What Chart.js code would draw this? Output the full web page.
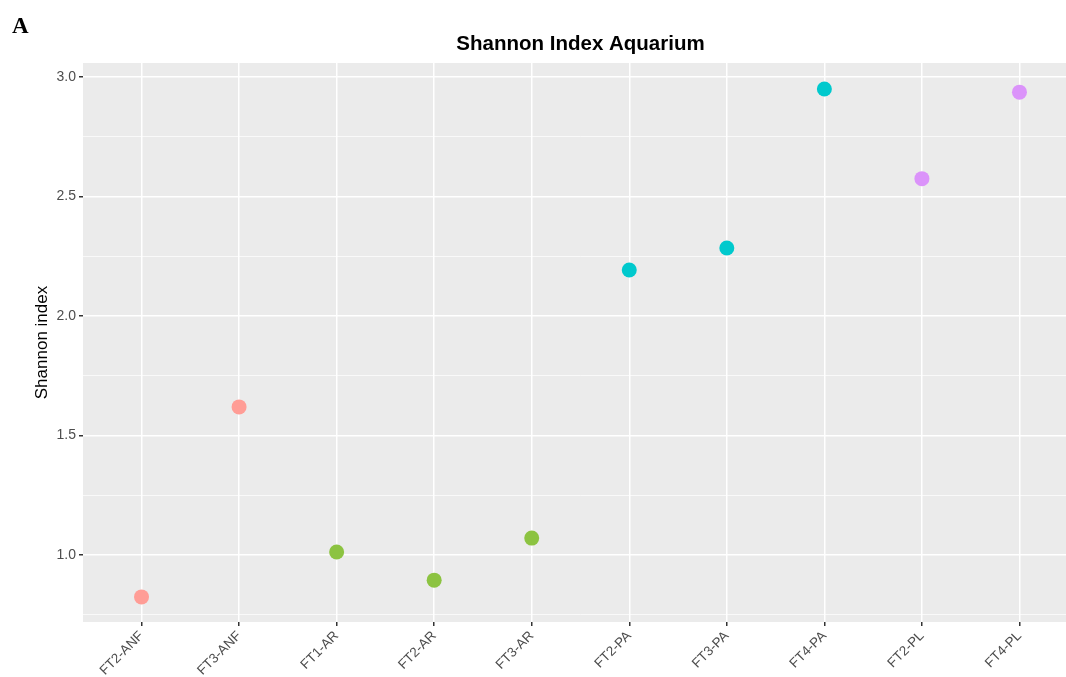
<!DOCTYPE html>
<html>
<head>
<meta charset="utf-8">
<script src="https://cdn.jsdelivr.net/npm/chart.js@4"></script>
<style>
  html, body { margin: 0; padding: 0; background: #fff; overflow: hidden; width: 1066px; height: 677px; }
  #wrap { position: relative; width: 1066px; height: 677px; overflow: hidden; }
  #letra { position: absolute; left: 12px; top: 13px; font-family: "Liberation Serif", "DejaVu Serif", serif; font-weight: bold; font-size: 23px; color: #000; }
  canvas { position: absolute; left: 0; top: 0; }
</style>
</head>
<body>
<div id="wrap">
  <canvas id="grafico" width="1090" height="677"></canvas>
  <div id="letra">A</div>
</div>
<script>
// datos
const muestras = ["FT2-ANF", "FT3-ANF", "FT1-AR", "FT2-AR", "FT3-AR", "FT2-PA", "FT3-PA", "FT4-PA", "FT2-PL", "FT4-PL"];
const shannon = [0.825, 1.62, 1.013, 0.895, 1.071, 2.193, 2.285, 2.95, 2.575, 2.937];
const grupos = ["ANF", "ANF", "AR", "AR", "AR", "PA", "PA", "PA", "PL", "PL"];
const coloresGrupo = { ANF: "#FF9D96", AR: "#8CC341", PA: "#00C9CD", PL: "#DB93FA" };

const ticksMayores = [1.0, 1.5, 2.0, 2.5, 3.0];
const ticksMenores = [0.75, 1.25, 1.75, 2.25, 2.75];

const esMayor = v => ticksMayores.some(t => Math.abs(t - v) < 1e-6);

// fondo gris del panel (estilo ggplot)
const fondoPanel = {
  id: "fondoPanel",
  beforeDraw(chart) {
    const { ctx, chartArea } = chart;
    ctx.save();
    ctx.fillStyle = "#EBEBEB";
    ctx.fillRect(chartArea.left, chartArea.top, chartArea.right - chartArea.left, chartArea.bottom - chartArea.top);
    ctx.restore();
  }
};

const puntos = muestras.map((m, i) => ({ x: i + 1, y: shannon[i] }));

new Chart(document.getElementById("grafico").getContext("2d"), {
  type: "scatter",
  data: {
    datasets: [{
      label: "Shannon",
      data: puntos,
      pointRadius: 7.5,
      pointHoverRadius: 7.5,
      pointBorderWidth: 0,
      pointBackgroundColor: grupos.map(g => coloresGrupo[g]),
      pointBorderColor: grupos.map(g => coloresGrupo[g])
    }]
  },
  options: {
    responsive: false,
    animation: false,
    devicePixelRatio: 1,
    layout: { padding: { left: 0, right: 12, top: 0, bottom: 0 } },
    plugins: {
      legend: { display: false },
      tooltip: { enabled: false },
      title: {
        display: true,
        text: "Shannon Index Aquarium",
        fullSize: false,
        color: "#000",
        font: { family: "Liberation Sans, Arial, sans-serif", size: 20.5, weight: "bold" },
        padding: { top: 32, bottom: 6.4 }
      }
    },
    scales: {
      x: {
        type: "linear",
        min: 0.4,
        max: 10.6,
        afterBuildTicks: s => { s.ticks = muestras.map((m, i) => ({ value: i + 1 })); },
        afterFit: s => { s.height = 55; },
        border: { display: false },
        grid: { color: "#FFFFFF", lineWidth: 1.5, tickColor: "#333333", tickLength: 4, drawTicks: true },
        ticks: {
          autoSkip: false,
          maxRotation: 45,
          minRotation: 45,
          padding: 2,
          color: "#4D4D4D",
          font: { family: "Liberation Sans, Arial, sans-serif", size: 13.5 },
          callback: v => muestras[Math.round(v) - 1]
        }
      },
      y: {
        type: "linear",
        min: 0.72,
        max: 3.059,
        afterBuildTicks: s => {
          s.ticks = ticksMayores.concat(ticksMenores).sort((a, b) => a - b).map(v => ({ value: v }));
        },
        afterFit: s => { s.width = 83; },
        border: { display: false },
        grid: {
          color: "#FFFFFF",
          lineWidth: c => esMayor(c.tick.value) ? 1.5 : 0.7,
          tickColor: c => esMayor(c.tick.value) ? "#333333" : "rgba(0,0,0,0)",
          tickLength: 4,
          drawTicks: true
        },
        ticks: {
          autoSkip: false,
          padding: 3,
          color: "#4D4D4D",
          font: { family: "Liberation Sans, Arial, sans-serif", size: 14 },
          callback: v => esMayor(v) ? v.toFixed(1) : ""
        },
        title: {
          display: true,
          text: "Shannon index",
          color: "#000",
          font: { family: "Liberation Sans, Arial, sans-serif", size: 17 },
          padding: { top: 32, bottom: 0 }
        }
      }
    }
  },
  plugins: [fondoPanel]
});
</script>
</body>
</html>
